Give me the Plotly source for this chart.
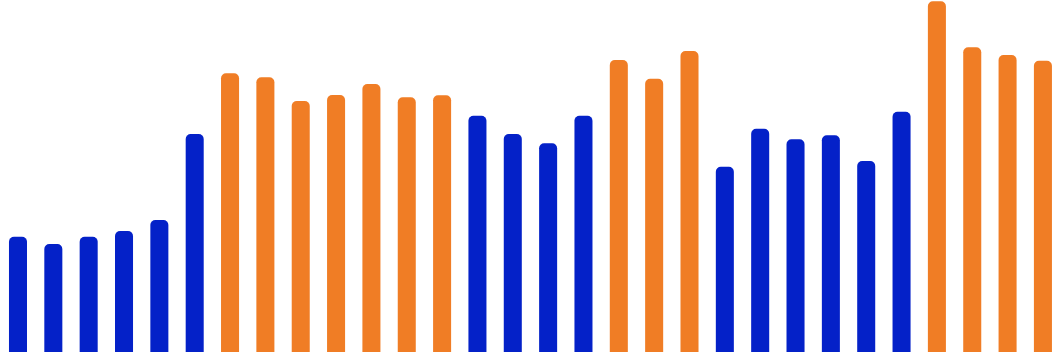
import plotly.graph_objects as go

categories = [f"P{i}" for i in range(1, 31)]
values = [115.3, 108, 115.3, 121, 132, 218, 278.7, 274.7, 251, 257,
          268, 254.7, 256.7, 236.3, 218, 208.7, 236.3, 292, 273.3, 301,
          185.3, 223.3, 212.7, 216.7, 191, 240.3, 350.7, 304.7, 297, 291.3]
groups = ["A"] * 6 + ["B"] * 7 + ["A"] * 4 + ["B"] * 3 + ["A"] * 6 + ["B"] * 4

palette = {"A": "#0421c8", "B": "#f07d25"}
colors = [palette[g] for g in groups]

fig = go.Figure(go.Bar(
    x=categories, y=values,
    marker=dict(color=colors, line=dict(width=0), cornerradius=5),
    width=0.51,
))
fig.update_layout(
    width=1056, height=352,
    margin=dict(l=0, r=0, t=0, b=0),
    paper_bgcolor="white", plot_bgcolor="white",
    showlegend=False,
    xaxis=dict(visible=False, range=[-0.509, 29.37]),
    yaxis=dict(visible=False, range=[0, 352]),
)
fig.write_html("out.html")
